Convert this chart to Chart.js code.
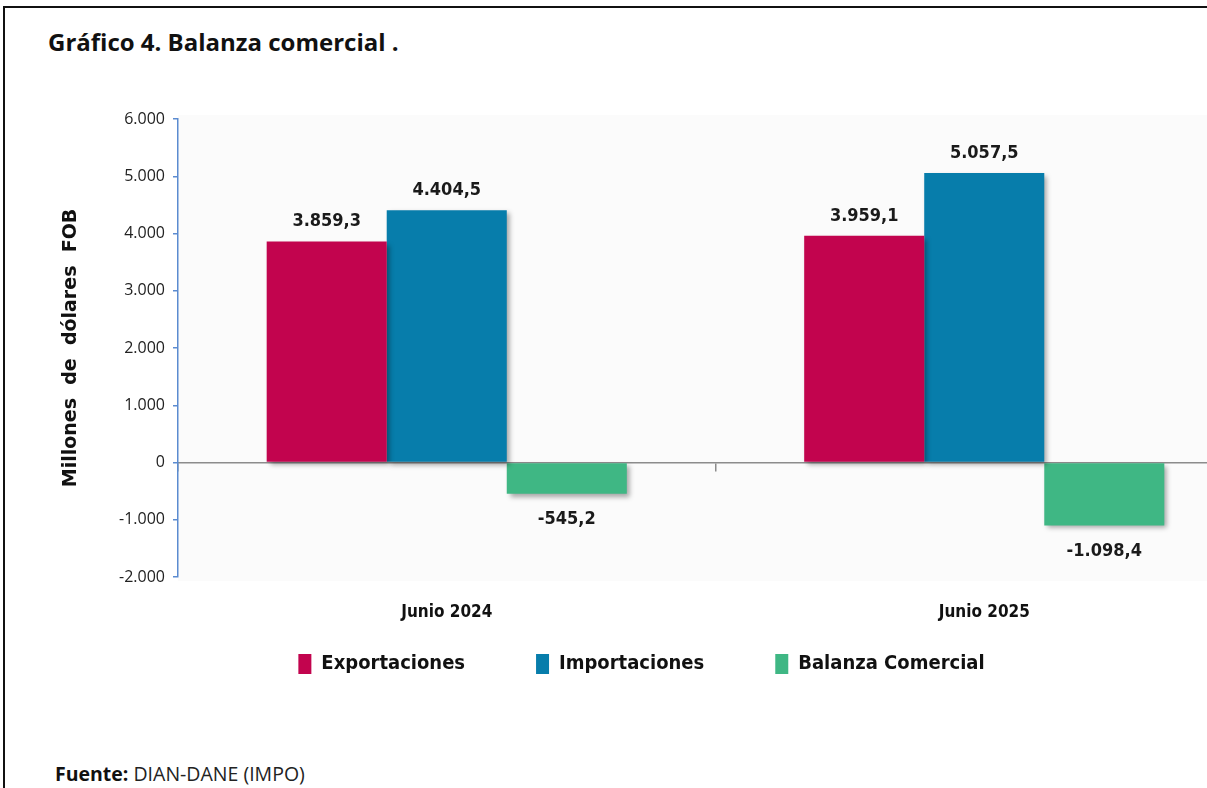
<!DOCTYPE html>
<html>
<head>
<meta charset="utf-8">
<script src="https://cdn.jsdelivr.net/npm/chart.js@4.4.1/dist/chart.umd.min.js"></script>
<style>
  html, body { margin: 0; padding: 0; background: #fff; }
  body { width: 1207px; height: 788px; overflow: hidden; position: relative; }
  #frame { position: absolute; left: 3px; top: 6px; width: 1300px; height: 800px;
           border-left: 2px solid #111; border-top: 2px solid #111; }
  #title { position: absolute; left: 48px; top: 25px; font: bold 24px "Open Sans", sans-serif; color: #111; }
  #source { position: absolute; left: 55px; top: 760px; font: 19.5px "Open Sans", sans-serif; color: #222; }
  #source b { color: #111; }
  #myChart { position: absolute; left: 0; top: 0; }
</style>
</head>
<body>
<div id="frame"></div>
<div id="title">Gráfico 4. Balanza comercial .</div>
<canvas id="myChart" width="1262" height="700"></canvas>
<div id="source"><b>Fuente:</b> DIAN-DANE (IMPO)</div>
<script>
const categories = ['Junio 2024', 'Junio 2025'];
const exportaciones = [3859.3, 3959.1];
const importaciones = [4404.5, 5057.5];
const balanza = [-545.2, -1098.4];
const yTicks = [-2000, -1000, 0, 1000, 2000, 3000, 4000, 5000, 6000];

const narrow = '"Liberation Sans Narrow", "DejaVu Sans Condensed", sans-serif';

function fmt(v, dec) {
    return v.toLocaleString('de-DE', { minimumFractionDigits: dec, maximumFractionDigits: dec });
}

// plot background + bar shadow
const shadowPlugin = {
    id: 'shadow',
    beforeDraw(chart) {
        const a = chart.chartArea;
        const ctx = chart.ctx;
        ctx.save();
        ctx.fillStyle = '#fbfbfb';
        ctx.fillRect(a.left, a.top - 4, chart.width - a.left, a.bottom - a.top + 8);
        ctx.restore();
    },
    beforeDatasetsDraw(chart) {
        const ctx = chart.ctx;
        ctx.save();
        ctx.shadowColor = 'rgba(0,0,0,0.35)';
        ctx.shadowBlur = 5;
        ctx.shadowOffsetX = 3;
        ctx.shadowOffsetY = 3;
    },
    afterDatasetsDraw(chart) {
        chart.ctx.restore();
    }
};

const labelPlugin = {
    id: 'valueLabels',
    afterDatasetsDraw(chart) {
        const ctx = chart.ctx;
        ctx.save();
        ctx.font = 'bold 18px ' + narrow;
        ctx.fillStyle = '#1a1a1a';
        ctx.textAlign = 'center';
        ctx.textBaseline = 'middle';
        chart.data.datasets.forEach((ds, i) => {
            const meta = chart.getDatasetMeta(i);
            meta.data.forEach((bar, j) => {
                const v = ds.data[j];
                const y = v >= 0 ? bar.y - 20 : bar.y + 26;
                ctx.fillText(fmt(v, 1), bar.x, y);
            });
        });
        ctx.restore();
    }
};

const ctx = document.getElementById('myChart');
new Chart(ctx, {
    type: 'bar',
    data: {
        labels: categories,
        datasets: [
            { label: 'Exportaciones', data: exportaciones, backgroundColor: '#c2044e' },
            { label: 'Importaciones', data: importaciones, backgroundColor: '#077dab' },
            { label: 'Balanza Comercial', data: balanza, backgroundColor: '#3fb784' }
        ]
    },
    options: {
        responsive: false,
        animation: false,
        layout: { padding: { top: 119, right: 9, bottom: 16, left: 30 } },
        datasets: {
            bar: { barPercentage: 1, categoryPercentage: 0.67 }
        },
        scales: {
            x: {
                grid: { display: false, drawTicks: false },
                border: { display: false },
                // mirror keeps the labels from being clipped to the thin axis box
                ticks: { mirror: true, padding: -46, color: '#111', font: { family: narrow, size: 17, weight: 'bold' } },
                afterFit: (scale) => { scale.height = 6; }
            },
            x2: {
                type: 'category',
                position: { y: 0 },
                offset: true,
                z: 1,
                grid: { offset: true, drawOnChartArea: false, tickLength: 8, color: '#8c8c8c', lineWidth: 1.5 },
                border: { color: '#8c8c8c', width: 1.5 },
                ticks: { display: false }
            },
            y: {
                min: -2000,
                max: 6000,
                afterBuildTicks: (scale) => { scale.ticks = yTicks.map((v) => ({ value: v })); },
                grid: { drawOnChartArea: false, tickLength: 5, color: '#5b8bd0', lineWidth: 1.5 },
                border: { color: '#5b8bd0', width: 1.5 },
                ticks: {
                    padding: 8,
                    color: '#222',
                    font: { family: '"Open Sans", sans-serif', size: 16 },
                    callback: (v) => fmt(v, 0)
                },
                title: {
                    display: true,
                    text: 'Millones  de  dólares  FOB',
                    color: '#111',
                    font: { family: '"DejaVu Sans", sans-serif', size: 19, weight: 'bold' },
                    padding: { top: 30, bottom: 0 }
                },
                afterFit: (scale) => { scale.width = 148; }
            }
        },
        plugins: {
            legend: {
                position: 'bottom',
                labels: {
                    boxWidth: 13,
                    boxHeight: 20,
                    padding: 71,
                    color: '#111',
                    font: { family: narrow, size: 20, weight: 'bold' }
                }
            },
            tooltip: { enabled: false }
        }
    },
    plugins: [shadowPlugin, labelPlugin]
});
</script>
</body>
</html>
